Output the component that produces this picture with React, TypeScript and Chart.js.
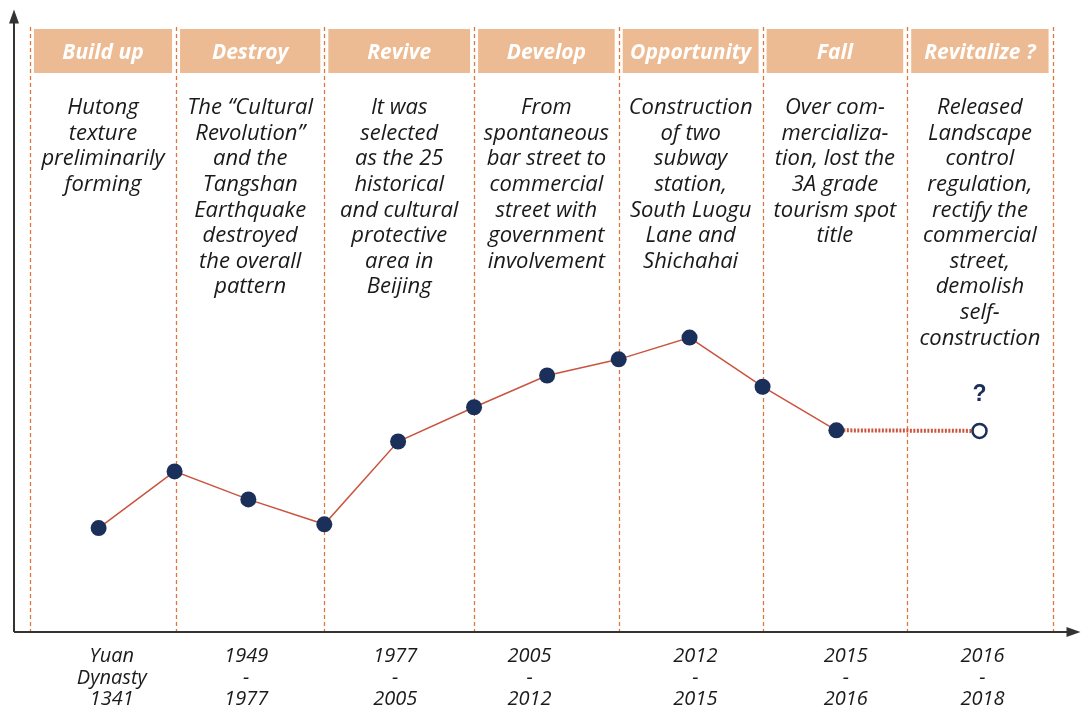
import React, { useEffect, useRef } from "react";
import { Chart, registerables } from "chart.js";

Chart.register(...registerables);

const stageTitles = ["Build up", "Destroy", "Revive", "Develop", "Opportunity", "Fall", "Revitalize ?"];

const stageTexts: string[][] = [
  ["Hutong", "texture", "preliminarily", "forming"],
  ["The \u201CCultural", "Revolution\u201D", "and the", "Tangshan", "Earthquake", "destroyed", "the overall", "pattern"],
  ["It was", "selected", "as the 25", "historical", "and cultural", "protective", "area in", "Beijing"],
  ["From", "spontaneous", "bar street to", "commercial", "street with", "government", "involvement"],
  ["Construction", "of two", "subway", "station,", "South Luogu", "Lane and", "Shichahai"],
  ["Over com-", "mercializa-", "tion, lost the", "3A grade", "tourism spot", "title"],
  ["Released", "Landscape", "control", "regulation,", "rectify the", "commercial", "street,", "demolish", "self-", "construction"],
];

const periodLabels: string[][] = [
  ["Yuan", "Dynasty", "1341"],
  ["1949", "-", "1977"],
  ["1977", "-", "2005"],
  ["2005", "-", "2012"],
  ["2012", "-", "2015"],
  ["2015", "-", "2016"],
  ["2016", "-", "2018"],
];

// stage boundaries on the time axis (axis units)
const stageBounds = [0, 2, 4.03, 6.08, 8.06, 10.03, 12.01, 14];
// where each period label sits on the time axis (axis units)
const periodLabelAt = [1.12, 2.96, 5.0, 6.84, 9.11, 11.17, 13.04];

const trendX = [0.94, 1.98, 2.99, 4.03, 5.04, 6.08, 7.08, 8.06, 9.03, 10.03, 11.04];
const trendY = [16.7, 25.8, 21.3, 17.3, 30.6, 36.1, 41.2, 43.8, 47.3, 39.4, 32.4];
const futureX = [11.04, 13.0];
const futureY = [32.4, 32.3];

const FONT = "'Open Sans', Lato, sans-serif";
const NAVY = "#1B2F5B";
const RED = "#C9553F";
const ORANGE = "#E0773A";
const HEADER = "#EDBB93";

const overlayPlugin = {
  id: "overlay",
  beforeDatasetsDraw(chart: any) {
    const { ctx, chartArea, scales } = chart;
    const xs = scales.x;
    const px = (v: number) => xs.getPixelForValue(v);
    ctx.save();
    // dashed boundaries
    ctx.strokeStyle = ORANGE;
    ctx.lineWidth = 1.3;
    ctx.setLineDash([4, 3]);
    stageBounds.forEach((b) => {
      const x = Math.round(px(b)) + 0.5;
      ctx.beginPath();
      ctx.moveTo(x, 27);
      ctx.lineTo(x, chartArea.bottom);
      ctx.stroke();
    });
    ctx.setLineDash([]);
    // headers
    for (let i = 0; i < stageTitles.length; i++) {
      const l = px(stageBounds[i]) + 4;
      const r = px(stageBounds[i + 1]) - 4;
      ctx.fillStyle = HEADER;
      ctx.fillRect(l, 29, r - l, 44);
      ctx.fillStyle = "#ffffff";
      ctx.font = `italic bold 21px ${FONT}`;
      ctx.textAlign = "center";
      ctx.textBaseline = "middle";
      ctx.fillText(stageTitles[i], (l + r) / 2, 53);
    }
    // description texts
    ctx.fillStyle = "#1a1a1a";
    ctx.font = `italic 22px ${FONT}`;
    ctx.textAlign = "center";
    ctx.textBaseline = "middle";
    stageTexts.forEach((lines, i) => {
      const cx = (px(stageBounds[i]) + px(stageBounds[i + 1])) / 2;
      lines.forEach((t, j) => ctx.fillText(t, cx, 108 + j * 25.6));
    });
    // period labels
    ctx.font = `italic 20px ${FONT}`;
    periodLabels.forEach((lines, i) => {
      const cx = px(periodLabelAt[i]);
      lines.forEach((t, j) => ctx.fillText(t, cx, 656.5 + j * 21.3));
    });
    // axes
    ctx.strokeStyle = "#333333";
    ctx.fillStyle = "#333333";
    ctx.lineWidth = 2;
    ctx.beginPath();
    ctx.moveTo(chartArea.left, chartArea.bottom);
    ctx.lineTo(chartArea.left, chartArea.top + 8);
    ctx.moveTo(chartArea.left, chartArea.bottom);
    ctx.lineTo(chartArea.right - 8, chartArea.bottom);
    ctx.stroke();
    ctx.beginPath();
    ctx.moveTo(chartArea.left, chartArea.top);
    ctx.lineTo(chartArea.left - 5, chartArea.top + 14);
    ctx.lineTo(chartArea.left + 5, chartArea.top + 14);
    ctx.closePath();
    ctx.fill();
    ctx.beginPath();
    ctx.moveTo(chartArea.right, chartArea.bottom);
    ctx.lineTo(chartArea.right - 14, chartArea.bottom - 5);
    ctx.lineTo(chartArea.right - 14, chartArea.bottom + 5);
    ctx.closePath();
    ctx.fill();
    ctx.restore();
  },
  afterDatasetsDraw(chart: any) {
    const { ctx, scales } = chart;
    const x = scales.x.getPixelForValue(futureX[1]);
    const y = scales.y.getPixelForValue(futureY[1]);
    ctx.save();
    ctx.fillStyle = NAVY;
    ctx.font = `bold 23px Arial, 'Liberation Sans', sans-serif`;
    ctx.textAlign = "center";
    ctx.textBaseline = "middle";
    ctx.fillText("?", x, y - 36);
    ctx.restore();
  },
};

export default function App() {
  const ref = useRef<HTMLCanvasElement | null>(null);
  useEffect(() => {
    if (!ref.current) return;
    const pxPerUnit = (1055 - 30) / 14;
    const chart = new Chart(ref.current, {
      type: "line",
      data: {
        datasets: [
          {
            data: trendX.map((x, i) => ({ x, y: trendY[i] })),
            borderColor: RED,
            borderWidth: 1.5,
            pointRadius: 8,
            pointBackgroundColor: NAVY,
            pointBorderWidth: 0,
            order: 0,
          },
          {
            data: futureX.map((x, i) => ({ x, y: futureY[i] })),
            borderColor: RED,
            borderWidth: 4,
            borderDash: [2, 1.5],
            pointRadius: 0,
            order: 2,
          },
          {
            data: [{ x: futureX[1], y: futureY[1] }],
            showLine: false,
            pointRadius: 7,
            pointBackgroundColor: "#ffffff",
            pointBorderColor: NAVY,
            pointBorderWidth: 2.5,
            order: 1,
          },
        ],
      },
      options: {
        animation: false,
        responsive: false,
        maintainAspectRatio: false,
        layout: { padding: { left: 14, right: 7, top: 8, bottom: 74 } },
        plugins: { legend: { display: false }, tooltip: { enabled: false } },
        scales: {
          x: { type: "linear", display: false, min: -16 / pxPerUnit, max: 14 + 28 / pxPerUnit },
          y: { type: "linear", display: false, min: 0, max: 100 },
        },
      },
      plugins: [overlayPlugin],
    });
    return () => chart.destroy();
  }, []);
  return (
    <div style={{ position: "absolute", left: 0, top: 0, width: 1090, height: 706, background: "#fff" }}>
      <canvas ref={ref} width={1090} height={706} />
    </div>
  );
}
